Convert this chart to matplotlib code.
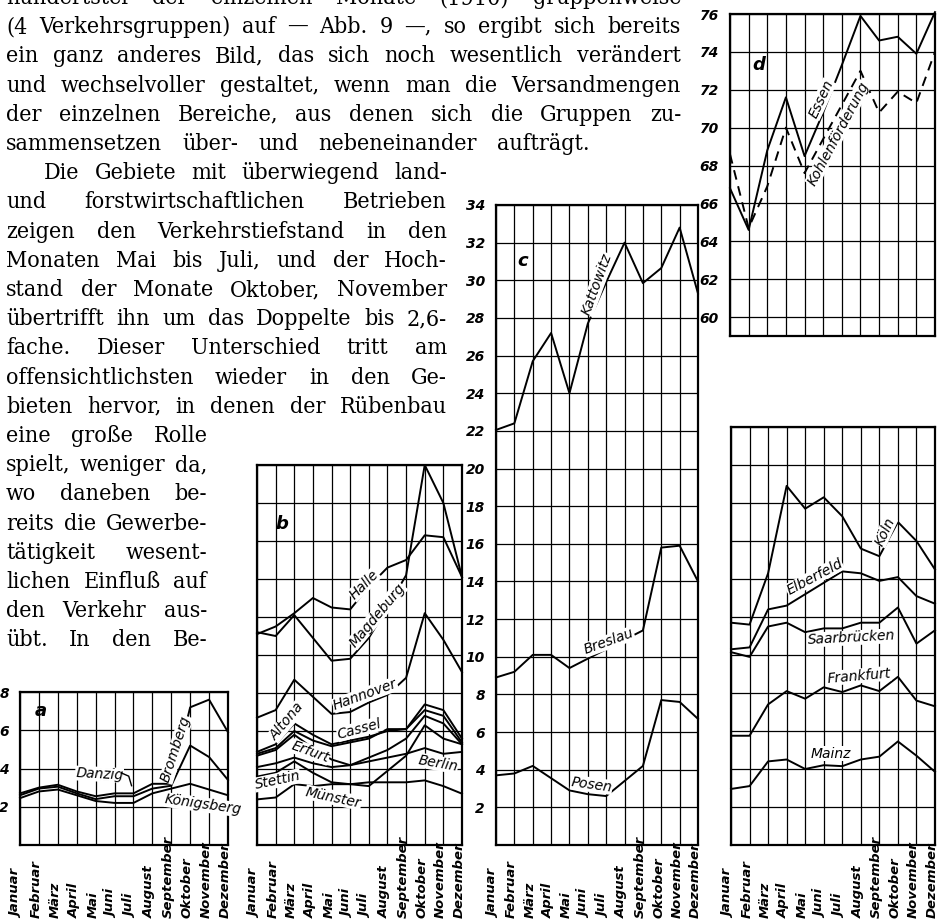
import numpy as np
import matplotlib
matplotlib.use('Agg')
import matplotlib.pyplot as plt
from matplotlib import font_manager as fm
from matplotlib import transforms

W, H = 939, 924

months = ['Januar', 'Februar', 'März', 'April', 'Mai', 'Juni', 'Juli',
          'August', 'September', 'Oktober', 'November', 'Dezember']

# a  (Ostprovinzen, Landwirtschaft)
bromberg = [2.7, 3.0, 3.15, 2.8, 2.55, 2.7, 2.7, 3.2, 3.2, 7.2, 7.6, 5.9]
danzig = [2.6, 2.95, 3.05, 2.7, 2.4, 2.55, 2.55, 2.95, 3.1, 5.2, 4.6, 3.4]
koenigsberg = [2.45, 2.8, 2.9, 2.6, 2.3, 2.2, 2.2, 2.7, 2.95, 3.2, 2.9, 2.6]

# b
halle = [11.1, 11.5, 12.2, 13.0, 12.5, 12.4, 13.6, 14.6, 15.0, 16.3, 16.2, 14.1]
magdeburg = [11.2, 11.0, 12.1, 10.9, 9.7, 9.8, 10.9, 12.5, 14.2, 20.0, 18.0, 14.1]
hannover = [6.7, 7.1, 8.7, 7.8, 6.9, 7.0, 7.5, 7.9, 8.8, 12.2, 10.8, 9.1]
altona = [4.9, 5.3, 6.4, 5.8, 5.3, 5.5, 5.7, 6.0, 6.1, 7.4, 7.1, 5.6]
cassel = [4.8, 5.1, 6.0, 5.5, 5.2, 5.4, 5.6, 6.1, 6.1, 7.1, 6.8, 5.4]
erfurt = [4.7, 5.0, 5.8, 5.1, 4.5, 4.2, 4.6, 5.0, 5.6, 6.8, 6.4, 5.3]
berlin = [4.1, 4.3, 4.6, 4.3, 4.1, 4.2, 4.4, 4.6, 4.8, 5.1, 4.8, 4.9]
stettin = [3.6, 3.8, 4.4, 3.8, 3.3, 3.2, 3.1, 3.9, 4.7, 6.3, 5.6, 5.3]
muenster = [2.4, 2.5, 3.2, 3.1, 3.2, 3.2, 3.3, 3.3, 3.3, 3.4, 3.1, 2.7]

# c
kattowitz = [22.05, 22.4, 25.7, 27.2, 24.0, 27.7, 29.9, 32.0, 29.85, 30.65, 32.8, 29.3]
breslau = [8.9, 9.2, 10.1, 10.1, 9.4, 9.9, 10.4, 10.9, 11.4, 15.8, 15.9, 14.0]
posen = [3.7, 3.8, 4.2, 3.55, 2.9, 2.7, 2.6, 3.4, 4.2, 7.7, 7.6, 6.7]

# d
essen = [66.8, 64.6, 68.8, 71.6, 68.5, 70.8, 73.3, 75.9, 74.6, 74.8, 73.9, 76.1]
kohle = [68.6, 64.7, 66.9, 70.0, 67.6, 69.4, 71.2, 73.0, 70.8, 71.9, 71.3, 74.0]

# e (Westen)
koeln = [11.7, 11.6, 14.3, 18.9, 17.7, 18.3, 17.3, 15.6, 15.2, 17.0, 16.0, 14.5]
elberfeld = [10.3, 10.4, 12.4, 12.6, 13.2, 13.8, 14.4, 14.3, 13.9, 14.1, 13.1, 12.7]
saarbruecken = [10.15, 9.9, 11.5, 11.7, 11.2, 11.4, 11.4, 11.7, 11.7, 12.5, 10.6, 11.3]
frankfurt = [5.75, 5.75, 7.4, 8.1, 7.7, 8.3, 8.05, 8.4, 8.1, 8.85, 7.6, 7.3]
mainz = [2.95, 3.1, 4.4, 4.5, 4.0, 4.2, 4.15, 4.5, 4.65, 5.45, 4.7, 3.85]

# (text, left px, right px)
text_lines = [
    ("hundertstel der einzelnen Monate (1910) gruppenweise", 6, 681),
    ("(4 Verkehrsgruppen) auf — Abb. 9 —, so ergibt sich bereits", 6, 681),
    ("ein ganz anderes Bild, das sich noch wesentlich verändert", 6, 681),
    ("und wechselvoller gestaltet, wenn man die Versandmengen", 6, 681),
    ("der einzelnen Bereiche, aus denen sich die Gruppen zu-", 6, 681),
    ("sammensetzen über- und nebeneinander aufträgt.", 6, 590),
    ("Die Gebiete mit überwiegend land-", 44, 447),
    ("und forstwirtschaftlichen Betrieben", 6, 447),
    ("zeigen den Verkehrstiefstand in den", 6, 447),
    ("Monaten Mai bis Juli, und der Hoch-", 6, 447),
    ("stand der Monate Oktober, November", 6, 447),
    ("übertrifft ihn um das Doppelte bis 2,6-", 6, 447),
    ("fache. Dieser Unterschied tritt am", 6, 447),
    ("offensichtlichsten wieder in den Ge-", 6, 447),
    ("bieten hervor, in denen der Rübenbau", 6, 447),
    ("eine große Rolle", 6, 208),
    ("spielt, weniger da,", 6, 207),
    ("wo daneben be-", 6, 207),
    ("reits die Gewerbe-", 6, 207),
    ("tätigkeit wesent-", 6, 207),
    ("lichen Einfluß auf", 6, 207),
    ("den Verkehr aus-", 6, 207),
    ("übt. In den Be-", 6, 207),
]

fig = plt.figure(figsize=(W / 100, H / 100), dpi=100)
renderer = fig.canvas.get_renderer()

# serif body text, condensed face if there is one
serif = fm.FontProperties(family='Liberation Serif')
for f in fm.fontManager.ttflist:
    if 'SerifCondensed.' in f.fname.replace('-', ''):
        serif = fm.FontProperties(fname=f.fname)
        break

# largest size for which every line still fits its measure
fs = 40
for line, x0, x1 in text_lines:
    probe = fig.text(0, 0, line, fontproperties=serif, fontsize=20)
    fs = min(fs, 20 * 0.975 * (x1 - x0) / probe.get_window_extent(renderer).width)
    probe.remove()
serif.set_size(fs)

for i, (line, x0, x1) in enumerate(text_lines):
    y = 4 + 29.2 * i
    words = line.split()
    ts = [fig.text(0, 0, w, fontproperties=serif, va='baseline', ha='left') for w in words]
    ws = [t.get_window_extent(renderer).width for t in ts]
    gap = (x1 - x0 - sum(ws)) / max(len(words) - 1, 1)
    x = x0
    for t, w in zip(ts, ws):
        t.set_position((x / W, 1 - y / H))
        x += w + gap

hand = dict(family='DejaVu Sans', style='italic')
lab_kw = dict(fontsize=10, ha='center', va='center', rotation_mode='anchor',
              bbox=dict(fc='white', ec='none', pad=0.3), zorder=5, **hand)


def panel(l, t, r, b, lo, hi, show_y=True, letter=None, letter_xy=None, month_labels=True):
    ax = fig.add_axes([l / W, 1 - b / H, (r - l) / W, (b - t) / H])
    ax.set_xlim(0, 11)
    ax.set_ylim(lo, hi)
    ax.set_xticks(range(12))
    ax.set_yticks(np.arange(np.ceil(lo / 2) * 2, hi + 0.1, 2))
    ax.grid(True, color='black', lw=0.9)
    ax.set_axisbelow(True)
    ax.tick_params(length=0, labelbottom=False, labelleft=show_y, pad=8)
    ax.yaxis.set_major_formatter(plt.FuncFormatter(lambda v, p: '' if v == 0 else '%d' % v))
    for lbl in ax.get_yticklabels():
        lbl.set_fontsize(10)
        lbl.set_fontweight('bold')
        lbl.set_fontstyle('italic')
    for s in ax.spines.values():
        s.set_linewidth(1.6)
    if month_labels:
        tr = transforms.blended_transform_factory(ax.transData, fig.transFigure)
        for i, m in enumerate(months):
            ax.text(i - 0.15, 1 - 918 / H, m, transform=tr, rotation=90, ha='center',
                    va='bottom', fontsize=9.5, fontweight='bold', clip_on=False, **hand)
    if letter:
        ax.text(*letter_xy, letter, fontsize=13, fontweight='bold', ha='left', va='center', **hand)
    return ax


def series(ax, vals, **kw):
    ax.plot(range(12), vals, color='black', lw=1.4, zorder=3, clip_on=False, **kw)


# a
ax = panel(20, 692, 228, 845, 0, 8, letter='a', letter_xy=(0.8, 7.0))
for s in (bromberg, danzig, koenigsberg):
    series(ax, s)
ax.text(4.2, 3.7, 'Danzig', rotation=-3, **lab_kw)
ax.plot([5.4, 5.75, 5.9], [3.75, 3.6, 3.1], color='black', lw=1.0, zorder=6)
ax.text(9.7, 2.1, 'Königsberg', rotation=-8, **lab_kw)
ax.text(8.25, 5.0, 'Bromberg', rotation=72, **lab_kw)

# b
ax = panel(257, 465, 462, 845, 0, 20, show_y=False, letter='b', letter_xy=(1.0, 16.9))
for s in (halle, magdeburg, hannover, altona, cassel, erfurt, berlin, stettin, muenster):
    series(ax, s)
ax.text(5.75, 13.7, 'Halle', rotation=45, **lab_kw)
ax.text(6.45, 12.1, 'Magdeburg', rotation=50, **lab_kw)
ax.text(5.8, 7.9, 'Hannover', rotation=20, **lab_kw)
ax.text(1.6, 6.5, 'Altona', rotation=50, **lab_kw)
ax.text(5.5, 6.1, 'Cassel', rotation=15, **lab_kw)
ax.text(2.85, 4.9, 'Erfurt', rotation=-20, **lab_kw)
ax.text(9.7, 4.3, 'Berlin', rotation=-10, **lab_kw)
ax.text(1.1, 3.4, 'Stettin', rotation=12, **lab_kw)
ax.text(4.1, 2.5, 'Münster', rotation=-12, **lab_kw)

# c
ax = panel(496, 205, 698, 845, 0, 34, letter='c', letter_xy=(1.15, 31.0))
for s in (kattowitz, breslau, posen):
    series(ax, s)
ax.text(5.5, 29.8, 'Kattowitz', rotation=70, **lab_kw)
ax.text(6.15, 10.8, 'Breslau', rotation=20, **lab_kw)
ax.text(5.2, 3.2, 'Posen', rotation=-8, **lab_kw)

# d
ax = panel(730, 14, 935, 336, 59, 76, letter='d', letter_xy=(1.2, 73.3), month_labels=False)
series(ax, essen)
series(ax, kohle, ls=(0, (5, 3.5)))
ax.text(4.9, 71.5, 'Essen', rotation=65, **lab_kw)
ax.text(5.8, 69.7, 'Kohlenförderung', rotation=62, **lab_kw)

# e
ax = panel(731, 427, 935, 845, 0, 22, show_y=False)
for s in (koeln, elberfeld, saarbruecken, frankfurt, mainz):
    series(ax, s)
ax.text(8.3, 16.5, 'Köln', rotation=65, **lab_kw)
ax.text(4.5, 14.1, 'Elberfeld', rotation=28, **lab_kw)
ax.text(6.5, 10.9, 'Saarbrücken', rotation=3, **lab_kw)
ax.text(6.9, 8.9, 'Frankfurt', rotation=5, **lab_kw)
ax.text(5.4, 4.8, 'Mainz', rotation=0, **lab_kw)

fig.savefig('out.png', dpi=100)
